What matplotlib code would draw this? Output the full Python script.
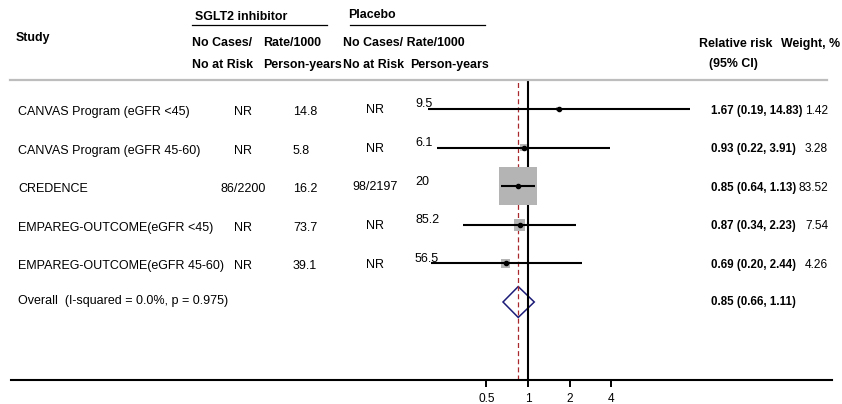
import numpy as np
import matplotlib
matplotlib.use('Agg')
import matplotlib.pyplot as plt
from matplotlib import transforms
from matplotlib.lines import Line2D

plt.rcParams['font.family'] = ['Liberation Sans', 'DejaVu Sans']

###############################################################
# data
###############################################################
studies = ['CANVAS Program (eGFR <45)', 'CANVAS Program (eGFR 45-60)', 'CREDENCE',
           'EMPAREG-OUTCOME(eGFR <45)', 'EMPAREG-OUTCOME(eGFR 45-60)']
sglt2_cases = ['NR', 'NR', '86/2200', 'NR', 'NR']
sglt2_rate = ['14.8', '5.8', '16.2', '73.7', '39.1']
placebo_cases = ['NR', 'NR', '98/2197', 'NR', 'NR']
placebo_rate = ['9.5', '6.1', '20', '85.2', '56.5']
rr = [1.67, 0.93, 0.85, 0.87, 0.69]
rr_lo = [0.19, 0.22, 0.64, 0.34, 0.20]
rr_hi = [14.83, 3.91, 1.13, 2.23, 2.44]
weight = [1.42, 3.28, 83.52, 7.54, 4.26]
overall_rr = 0.85
overall_lo = 0.66
overall_hi = 1.11
overall_label = 'Overall  (I-squared = 0.0%, p = 0.975)'
xticks = [0.5, 1, 2, 4]
xticklabels = ['0.5', '1', '2', '4']

###############################################################
# figure
###############################################################
W, H = 842, 404
fig = plt.figure(figsize=(W / 100, H / 100), dpi=100)
fig.patch.set_facecolor('white')

def fx(px):
    return px / W

def fy(py):
    return 1 - py / H

ax_left, ax_right, ax_top, ax_bottom = 11, 832, 80, 380
ax = fig.add_axes([fx(ax_left), fy(ax_bottom), fx(ax_right - ax_left), (ax_bottom - ax_top) / H])

px_per_doubling = 41.7
x_one = 528
ax.set_xscale('log', base=2)
ax.set_xlim(2 ** ((ax_left - x_one) / px_per_doubling), 2 ** ((ax_right - x_one) / px_per_doubling))
row_px = 38.6
ax.set_ylim(6 + (ax_bottom - 302) / row_px, 1 - (109 - ax_top) / row_px)

rows = np.arange(1, len(studies) + 1)
overall_row = len(studies) + 1

# reference lines
ax.axvline(1, color='black', linewidth=1.5, zorder=2)
ax.axvline(overall_rr, color='#a8282d', linewidth=0.9, dashes=(4, 2.5), zorder=2)

# weight boxes, side proportional to sqrt(weight)
w = np.array(weight)
side_pt = 38 * np.sqrt(w / w.max()) * 0.72
ax.scatter(rr, rows, s=side_pt ** 2, marker='s', color='#b4b4b4', linewidths=0, zorder=3)

# confidence intervals and point estimates
ax.hlines(rows, rr_lo, rr_hi, colors='black', linewidth=1.5, zorder=4)
ax.plot(rr, rows, 'o', color='black', markersize=3, zorder=5)

# overall diamond
dh = 0.40
ax.fill([overall_lo, overall_rr, overall_hi, overall_rr],
        [overall_row, overall_row - dh, overall_row, overall_row + dh],
        facecolor='none', edgecolor='#1c1c78', linewidth=1.1, zorder=1)

# axis styling
for s in ['top', 'left', 'right']:
    ax.spines[s].set_visible(False)
ax.spines['bottom'].set_linewidth(1.5)
ax.set_yticks([])
ax.set_xticks(xticks)
ax.set_xticklabels(xticklabels)
ax.minorticks_off()
ax.tick_params(axis='x', direction='out', length=5, width=1.4, pad=4, labelsize=8.6)
ax.patch.set_alpha(0)

###############################################################
# texts
###############################################################
trans = transforms.blended_transform_factory(fig.transFigure, ax.transData)
fs = 9
rr_fs = 8.3

for i, r in enumerate(rows):
    ax.text(fx(18), r + 0.08, studies[i], transform=trans, va='center', ha='left', fontsize=fs)
    ax.text(fx(243), r + 0.08, sglt2_cases[i], transform=trans, va='center', ha='center', fontsize=fs)
    ax.text(fx(293), r + 0.08, sglt2_rate[i], transform=trans, va='center', ha='left', fontsize=fs)
    ax.text(fx(375), r + 0.03, placebo_cases[i], transform=trans, va='center', ha='center', fontsize=fs)
    ax.text(fx(415), r - 0.12, placebo_rate[i], transform=trans, va='center', ha='left', fontsize=fs)
    ax.text(fx(711), r + 0.04, f'{rr[i]:.2f} ({rr_lo[i]:.2f}, {rr_hi[i]:.2f})', transform=trans,
            va='center', ha='left', fontsize=rr_fs, fontweight='bold')
    ax.text(fx(828), r + 0.04, f'{weight[i]:.2f}', transform=trans, va='center', ha='right', fontsize=8.6)

ax.text(fx(18), overall_row - 0.02, overall_label, transform=trans, va='center', ha='left', fontsize=fs)
ax.text(fx(711), overall_row, f'{overall_rr:.2f} ({overall_lo:.2f}, {overall_hi:.2f})', transform=trans,
        va='center', ha='left', fontsize=rr_fs, fontweight='bold')

# header
hfs = 8.9
headers = [
    (16, 38, 'Study'),
    (195, 17, 'SGLT2 inhibitor'),
    (348, 15, 'Placebo'),
    (192, 43, 'No Cases/'),
    (263, 43, 'Rate/1000'),
    (343, 43, 'No Cases/ Rate/1000'),
    (192, 65, 'No at Risk'),
    (263, 65, 'Person-years'),
    (343, 65, 'No at Risk'),
    (410, 65, 'Person-years'),
    (699, 44, 'Relative risk'),
    (781, 44, 'Weight, %'),
    (709, 64, '(95% CI)'),
]
for x, y, t in headers:
    fig.text(fx(x), fy(y), t, ha='left', va='center', fontsize=hfs, fontweight='bold')

fig.add_artist(Line2D([fx(192), fx(327)], [fy(25), fy(25)], color='black', linewidth=0.9))
fig.add_artist(Line2D([fx(350), fx(485)], [fy(25), fy(25)], color='black', linewidth=0.9))
fig.add_artist(Line2D([fx(10), fx(827)], [fy(80), fy(80)], color='#bdbdbd', linewidth=1.6, zorder=10))

fig.savefig('out.png', dpi=100)
